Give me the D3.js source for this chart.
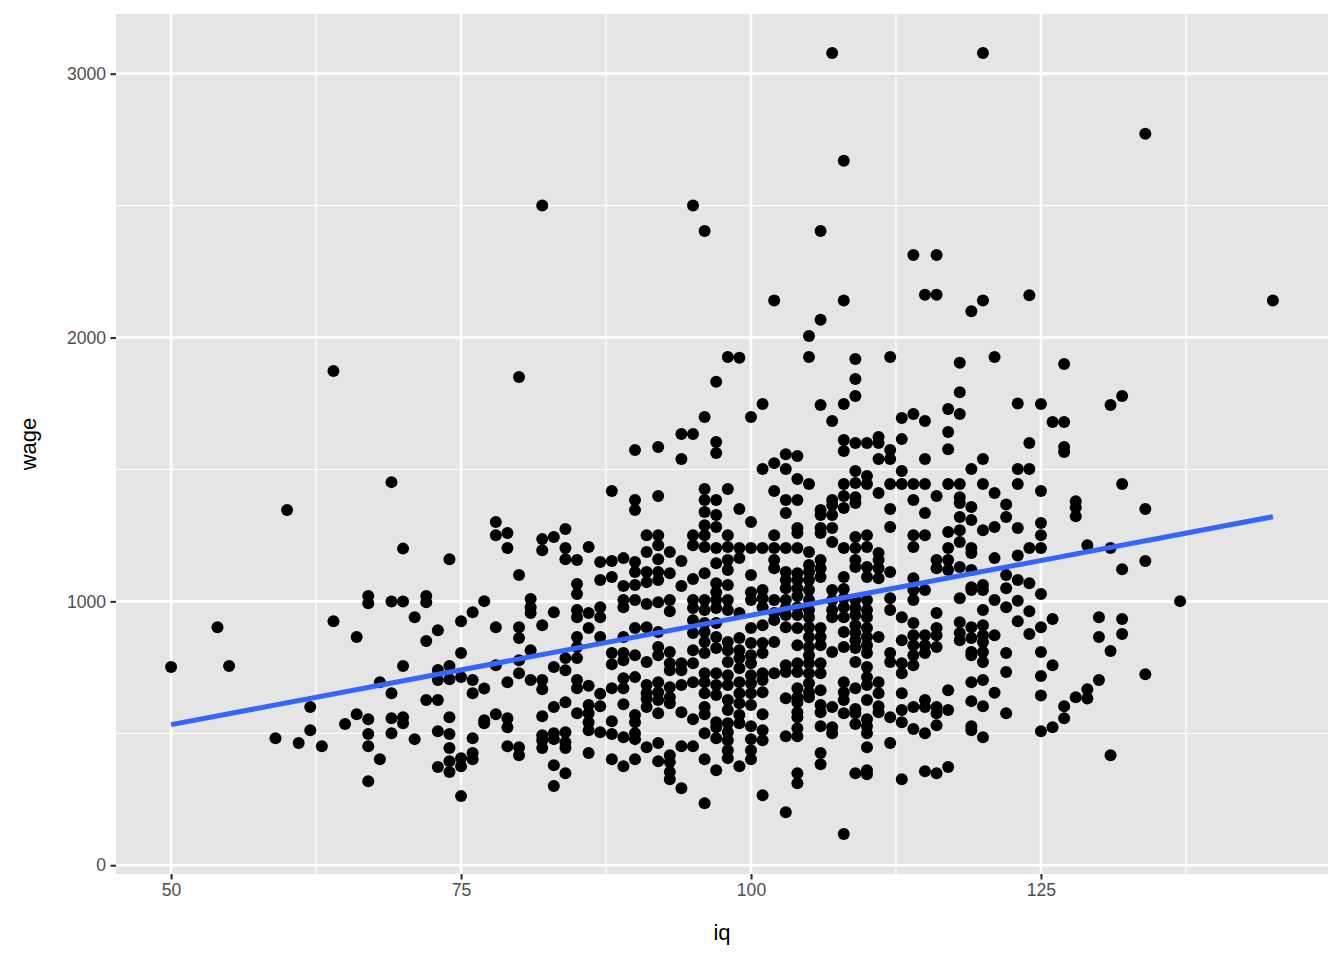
<!DOCTYPE html>
<html>
<head>
<meta charset="utf-8">
<script src="https://cdn.jsdelivr.net/npm/d3@7"></script>
<style>
  body { margin: 0; background: #fff; }
  svg text { font-family: "Liberation Sans", Arial, sans-serif; }
</style>
</head>
<body>
<svg id="chart" width="1344" height="960"></svg>
<script>
const iqLevels = [50, 54, 55, 59, 60, 61, 62, 63, 64, 65, 66, 67, 68, 69, 70, 71, 72, 73, 74, 75,
  76, 77, 78, 79, 80, 81, 82, 83, 84, 85, 86, 87, 88, 89, 90, 91, 92, 93, 94, 95,
  96, 97, 98, 99, 100, 101, 102, 103, 104, 105, 106, 107, 108, 109, 110, 111, 112, 113, 114, 115,
  116, 117, 118, 119, 120, 121, 122, 123, 124, 125, 126, 127, 128, 129, 130, 131, 132, 134, 137, 145];

const wageByIq = [
  [751], [902], [755], [481], [1346], [463], [600, 512], [451], [1873, 925], [535],
  [865, 572], [1020, 993, 553, 497, 451, 318], [694, 402], [1452, 1000, 652, 557, 500],
  [1200, 1000, 755, 561, 538], [940, 478], [1020, 997, 850, 626], [891, 740, 702, 626, 508, 372],
  [1160, 755, 705, 561, 497, 444, 394, 353], [925, 804, 713, 406, 375, 262],
  [959, 702, 652, 481, 425, 402], [1001, 670, 550, 538], [1301, 1251, 902, 758, 572],
  [1259, 1202, 694, 557, 523, 451], [1850, 1100, 902, 861, 777, 728, 447, 417],
  [1009, 978, 956, 815, 702], [2500, 1236, 1194, 910, 702, 667, 565, 493, 474, 444],
  [1244, 959, 751, 600, 500, 478, 379, 300], [1274, 1202, 1160, 785, 739, 618, 504, 466, 444, 349],
  [1157, 1066, 1028, 967, 940, 865, 827, 785, 702, 671, 576],
  [1206, 956, 899, 680, 607, 576, 542, 512, 425], [1149, 1081, 978, 940, 865, 650, 603, 504],
  [1418, 1153, 1092, 804, 762, 671, 546, 497, 402],
  [1164, 1058, 1005, 978, 865, 804, 777, 709, 671, 610, 485, 375],
  [1574, 1384, 1346, 1149, 1111, 1062, 1005, 899, 796, 713, 569, 542, 500, 478, 402],
  [1251, 1187, 1111, 1073, 990, 902, 770, 683, 652, 630, 600, 447],
  [1585, 1399, 1251, 1213, 1160, 1111, 1081, 997, 884, 827, 796, 694, 656, 626, 576, 463, 394],
  [1187, 1107, 1005, 963, 808, 766, 739, 675, 637, 614, 417, 391, 353, 326],
  [1634, 1540, 1153, 1058, 766, 739, 683, 580, 451, 292],
  [2500, 1634, 1251, 1213, 1085, 1005, 975, 929, 880, 815, 766, 694, 553, 451],
  [2404, 1699, 1426, 1384, 1339, 1289, 1251, 1206, 1107, 1005, 967, 918, 884, 846, 804, 728, 694, 652, 600, 572, 500, 402, 235],
  [1832, 1604, 1562, 1384, 1327, 1282, 1202, 1145, 1069, 1035, 1005, 975, 918, 865, 823, 728, 683, 645, 542, 523, 481, 360],
  [1926, 1426, 1251, 1206, 1157, 1119, 1062, 1005, 967, 846, 815, 770, 720, 683, 626, 588, 538, 504, 474, 436, 406],
  [1923, 1350, 1202, 1164, 956, 861, 815, 785, 747, 694, 652, 614, 569, 538, 375],
  [1699, 1301, 1202, 1100, 1035, 1005, 899, 842, 796, 766, 720, 690, 652, 607, 527, 478, 436, 402],
  [1748, 1502, 1202, 1043, 1012, 978, 910, 842, 804, 728, 702, 656, 572, 512, 474, 265],
  [2140, 1524, 1418, 1251, 1202, 1157, 1126, 1005, 956, 929, 846, 728],
  [1558, 1502, 1384, 1335, 1202, 1111, 1081, 1050, 1005, 975, 948, 902, 758, 732, 633, 489, 201],
  [1551, 1464, 1384, 1278, 1259, 1202, 1107, 1081, 1050, 1020, 978, 948, 899, 834, 766, 732, 671, 637, 618, 580, 561, 519, 489, 349, 311],
  [2006, 1926, 1445, 1187, 1138, 1111, 1081, 1043, 1005, 967, 940, 902, 865, 827, 796, 766, 728, 690, 656, 637],
  [2404, 2067, 1744, 1346, 1327, 1278, 1259, 1157, 1126, 1092, 899, 865, 834, 766, 728, 663, 607, 580, 527, 425, 383],
  [3078, 1684, 1384, 1365, 1327, 1278, 1225, 1043, 1005, 967, 940, 808, 600, 523, 500],
  [2670, 2140, 1748, 1612, 1570, 1445, 1399, 1354, 1202, 1092, 1047, 1012, 978, 940, 884, 827, 694, 656, 626, 576, 118],
  [1919, 1843, 1778, 1600, 1494, 1449, 1395, 1373, 1244, 1202, 1157, 1130, 1005, 975, 948, 910, 880, 853, 823, 770, 671, 592, 576, 535, 349],
  [1600, 1475, 1445, 1251, 1206, 1130, 1092, 1005, 967, 940, 899, 865, 834, 804, 751, 713, 683, 626, 553, 527, 500, 447, 360, 345],
  [1623, 1600, 1540, 1411, 1183, 1157, 1126, 1088, 865, 694, 652, 603, 580],
  [1926, 1574, 1540, 1445, 1350, 1282, 1111, 1012, 967, 804, 770, 561, 463],
  [1695, 1615, 1494, 1445, 940, 853, 766, 728, 652, 588, 542, 326],
  [2313, 1710, 1445, 1384, 1251, 1206, 1088, 1043, 1005, 918, 872, 834, 796, 758, 600, 516],
  [2162, 1684, 1540, 1445, 1335, 1251, 1043, 872, 834, 804, 626, 600, 500, 356],
  [2313, 2162, 1399, 1157, 1126, 956, 899, 872, 827, 600, 576, 531, 349],
  [1729, 1642, 1577, 1445, 1263, 1202, 1157, 1119, 663, 588, 372],
  [1904, 1793, 1710, 1445, 1395, 1373, 1320, 1270, 1225, 1130, 1012, 921, 880, 853],
  [2100, 1502, 1358, 1308, 1202, 1183, 1119, 1054, 1043, 902, 861, 808, 796, 694, 622, 527, 512],
  [3078, 2140, 1540, 1445, 1270, 1062, 1043, 967, 910, 872, 846, 808, 770, 702, 603, 485],
  [1926, 1411, 1282, 1164, 1005, 872, 654],
  [1367, 1320, 1100, 1050, 978, 804, 732, 576],
  [1750, 1502, 1445, 1278, 1174, 1081, 1002, 925],
  [2160, 1600, 1502, 1202, 1069, 963, 876],
  [1748, 1418, 1297, 1251, 1202, 1028, 902, 808, 717, 643, 508],
  [1680, 933, 758, 523],
  [1900, 1680, 1585, 1566, 603, 557],
  [1380, 1356, 1323, 637],
  [1213, 667, 632],
  [940, 865, 702],
  [1744, 1202, 812, 417],
  [1778, 1445, 1122, 933, 876],
  [2772, 1350, 1153, 724],
  [1001],
  [2140]
];

// fitted lm line, read at its two ends
const fitIq = [50, 145];
const fitWage = [533, 1321];

const xTicks = [50, 75, 100, 125];
const xMinor = [62.5, 87.5, 112.5, 137.5];
const yTicks = [0, 1000, 2000, 3000];
const yMinor = [500, 1500, 2500];

const svg = d3.select('#chart');
const panel = { left: 116, right: 1328, top: 14, bottom: 874 };

// ggplot style 5% expansion around the data range
const xMin = 50, xMax = 145, yMin = 115, yMax = 3078;
const xPad = (xMax - xMin) * 0.05, yPad = (yMax - yMin) * 0.05;

const x = d3.scaleLinear().domain([xMin - xPad, xMax + xPad]).range([panel.left, panel.right]);
const y = d3.scaleLinear().domain([yMin - yPad, yMax + yPad]).range([panel.bottom, panel.top]);

const points = iqLevels.flatMap((iq, i) => wageByIq[i].map(w => ({ iq: iq, wage: w })));

svg.append('rect')
    .attr('x', panel.left).attr('y', panel.top)
    .attr('width', panel.right - panel.left).attr('height', panel.bottom - panel.top)
    .attr('fill', '#E5E5E5');

let grid = svg.append('g').attr('stroke', '#fff').attr('fill', 'none');
grid.selectAll('.xminor').data(xMinor).enter().append('line')
    .attr('x1', d => x(d)).attr('x2', d => x(d))
    .attr('y1', panel.top).attr('y2', panel.bottom).attr('stroke-width', 1.3);
grid.selectAll('.yminor').data(yMinor).enter().append('line')
    .attr('y1', d => y(d)).attr('y2', d => y(d))
    .attr('x1', panel.left).attr('x2', panel.right).attr('stroke-width', 1.3);
grid.selectAll('.xmajor').data(xTicks).enter().append('line')
    .attr('x1', d => x(d)).attr('x2', d => x(d))
    .attr('y1', panel.top).attr('y2', panel.bottom).attr('stroke-width', 2.6);
grid.selectAll('.ymajor').data(yTicks).enter().append('line')
    .attr('y1', d => y(d)).attr('y2', d => y(d))
    .attr('x1', panel.left).attr('x2', panel.right).attr('stroke-width', 2.6);

// points
svg.append('g').selectAll('circle').data(points).enter().append('circle')
    .attr('cx', d => x(d.iq))
    .attr('cy', d => y(d.wage))
    .attr('r', 6)
    .attr('fill', '#000');

// regression line
const line = d3.line().x(d => x(d[0])).y(d => y(d[1]));
svg.append('path')
    .datum(d3.zip(fitIq, fitWage))
    .attr('d', line)
    .attr('fill', 'none')
    .attr('stroke', '#3366FF')
    .attr('stroke-width', 5);

// axes
const xAxis = svg.append('g')
    .attr('transform', `translate(0,${panel.bottom})`)
    .call(d3.axisBottom(x).tickValues(xTicks).tickFormat(d3.format('d')).tickSize(5.5).tickPadding(4));
const yAxis = svg.append('g')
    .attr('transform', `translate(${panel.left},0)`)
    .call(d3.axisLeft(y).tickValues(yTicks).tickFormat(d3.format('d')).tickSize(5.5).tickPadding(4.4));

[xAxis, yAxis].forEach(a => {
    a.select('.domain').remove();
    a.selectAll('.tick line').attr('stroke', '#333').attr('stroke-width', 2.1);
    a.selectAll('.tick text')
        .attr('fill', '#4D4D4D')
        .style('font-size', '17.6px')
        .style('font-family', '"Liberation Sans", Arial, sans-serif');
});

svg.append('text')
    .attr('x', (panel.left + panel.right) / 2)
    .attr('y', 940)
    .attr('text-anchor', 'middle')
    .style('font-size', '22px')
    .text('iq');

svg.append('text')
    .attr('transform', `translate(36,${(panel.top + panel.bottom) / 2}) rotate(-90)`)
    .attr('text-anchor', 'middle')
    .style('font-size', '22px')
    .text('wage');
</script>
</body>
</html>
